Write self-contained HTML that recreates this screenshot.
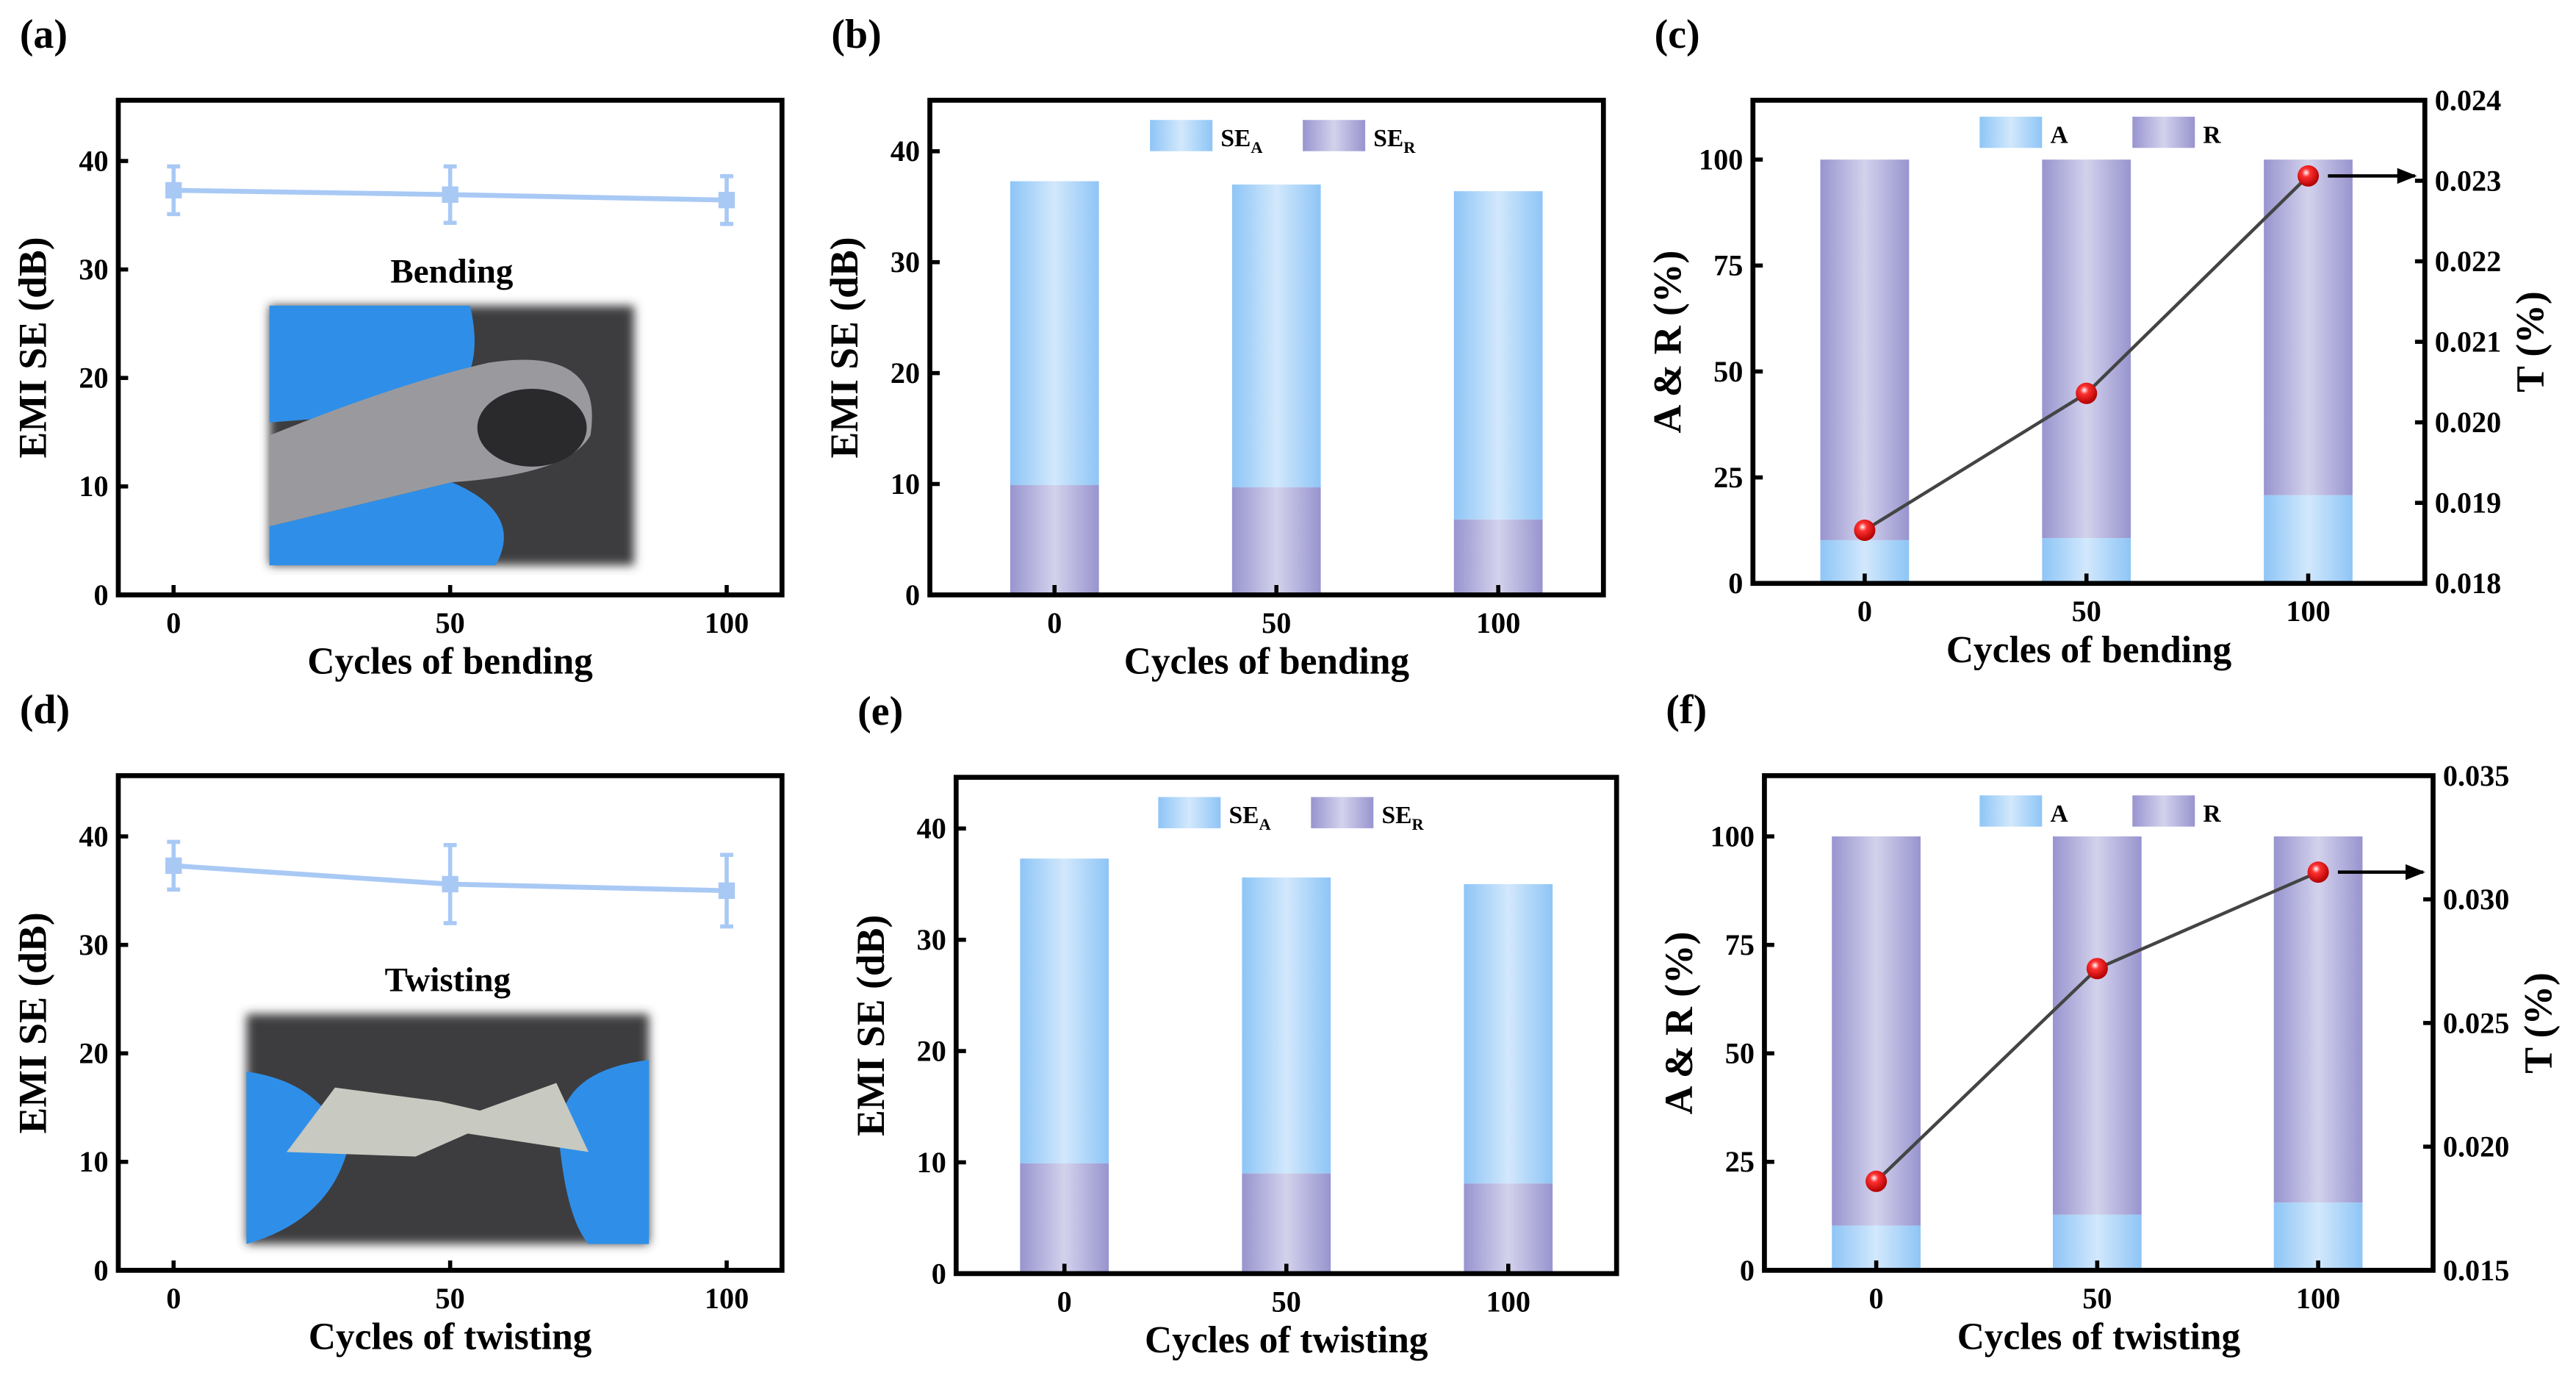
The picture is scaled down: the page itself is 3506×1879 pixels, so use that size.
<!DOCTYPE html>
<html><head><meta charset="utf-8">
<style>
html,body{margin:0;padding:0;background:#fff;}
svg{display:block;}
text{font-family:"Liberation Serif",serif;font-weight:bold;fill:#000;}
</style></head>
<body>
<svg id="fig" width="3506" height="1879" viewBox="0 0 1568 840.35" xmlns="http://www.w3.org/2000/svg">
<defs>
<linearGradient id="gA" x1="0" x2="1" y1="0" y2="0">
<stop offset="0" stop-color="#8ec5f6"/><stop offset="0.5" stop-color="#d2e8fc"/><stop offset="1" stop-color="#8ec5f6"/></linearGradient>
<linearGradient id="gR" x1="0" x2="1" y1="0" y2="0">
<stop offset="0" stop-color="#9894cf"/><stop offset="0.5" stop-color="#d3d2ec"/><stop offset="1" stop-color="#9894cf"/></linearGradient>
<radialGradient id="gBall" cx="0.4" cy="0.35" r="0.65">
<stop offset="0" stop-color="#fff"/><stop offset="0.3" stop-color="#ff3030"/><stop offset="1" stop-color="#b00000"/></radialGradient>
<marker id="arr" viewBox="0 0 10 10" refX="9" refY="5" markerWidth="6" markerHeight="6" orient="auto"><path d="M0,1 L10,5 L0,9 Z" fill="#000"/></marker>
<filter id="soft" x="-10%" y="-10%" width="120%" height="120%"><feGaussianBlur stdDeviation="3"/></filter>
</defs>
<g id="root"></g>
</svg>
<script>
// ---- data ----
const cycles = [0, 50, 100];
const bendSE = [37.3, 36.9, 36.4];
const bendErr = [2.2, 2.6, 2.2];
const twistSE = [37.3, 35.6, 35.0];
const twistErr = [2.2, 3.6, 3.3];
const bendSEA = [37.3, 37.0, 36.4];
const bendSER = [9.9, 9.7, 6.8];
const twistSEA = [37.3, 35.6, 35.0];
const twistSER = [9.9, 9.0, 8.1];
const bendA = [10.2, 10.7, 20.8];
const bendT = [0.01866, 0.02036, 0.02306];
const twistA = [10.3, 12.8, 15.6];
const twistT = [0.0186, 0.0272, 0.0311];
const xTickLabels = ['0', '50', '100'];
const seTicks = [0, 10, 20, 30, 40];
const arTicks = [0, 25, 50, 75, 100];
const tTicksBend = [0.018, 0.019, 0.020, 0.021, 0.022, 0.023, 0.024];
const tTicksTwist = [0.015, 0.020, 0.025, 0.030, 0.035];

const NS = 'http://www.w3.org/2000/svg';
const root = document.getElementById('root');
function el(tag, attrs, parent, txt){
  const e = document.createElementNS(NS, tag);
  for (const k in attrs) e.setAttribute(k, attrs[k]);
  if (txt !== undefined) e.textContent = txt;
  (parent || root).appendChild(e);
  return e;
}
function lin(d0, d1, r0, r1){ return v => r0 + (v - d0) * (r1 - r0) / (d1 - d0); }

function frame(g, x0, y0, x1, y1, xs, ys, xlabel, ylabel, panel, yTicks, yFmt){
  const lab = el('text', {x: x0 - 60, y: y0 - 32, 'font-size': 25}, g, panel);
  
  
  const box = el('rect', {x: x0, y: y0, width: x1 - x0, height: y1 - y0, fill: 'none', stroke: '#000', 'stroke-width': 3}, g);
  
  
  cycles.forEach((c, i) => {
    const x = xs(c);
    el('line', {x1: x, x2: x, y1: y1, y2: y1 - 6, stroke: '#000', 'stroke-width': 2.5}, g);
    const t = el('text', {x: x, y: y1 + 23, 'font-size': 18, 'text-anchor': 'middle'}, g, xTickLabels[i]);
    
    
  });
  yTicks.forEach(v => {
    const y = ys(v);
    el('line', {x1: x0, x2: x0 + 6, y1: y, y2: y, stroke: '#000', 'stroke-width': 2.5}, g);
    const t = el('text', {x: x0 - 6, y: y + 6, 'font-size': 18, 'text-anchor': 'end'}, g, yFmt(v));
    
    
  });
  const xt = el('text', {x: (x0 + x1) / 2, y: y1 + 48, 'font-size': 23, 'text-anchor': 'middle'}, g, xlabel);
  
  
  const cy = (y0 + y1) / 2;
  const yt = el('text', {x: x0 - 44, y: cy, 'font-size': 24, 'text-anchor': 'middle', transform: `rotate(-90 ${x0 - 44} ${cy})`}, g, ylabel);
  
  
}

function photo(g, x, y, w, h, twist){
  const p = el('g', {}, g);
  
  
  el('rect', {x: x, y: y, width: w, height: h, fill: '#3d3d40', filter: 'url(#soft)'}, p);
  if (!twist){
    el('path', {d: `M${x} ${y} L${x+w*0.55} ${y} Q${x+w*0.6} ${y+h*0.3} ${x+w*0.45} ${y+h*0.4} L${x} ${y+h*0.45} Z`, fill: '#2f8fe8'}, p);
    el('path', {d: `M${x} ${y+h*0.85} L${x+w*0.5} ${y+h*0.68} Q${x+w*0.7} ${y+h*0.8} ${x+w*0.62} ${y+h} L${x} ${y+h} Z`, fill: '#2f8fe8'}, p);
    el('path', {d: `M${x} ${y+h*0.5} Q${x+w*0.35} ${y+h*0.3} ${x+w*0.6} ${y+h*0.22} Q${x+w*0.92} ${y+h*0.15} ${x+w*0.88} ${y+h*0.5} Q${x+w*0.82} ${y+h*0.65} ${x+w*0.5} ${y+h*0.68} L${x} ${y+h*0.85} Z`, fill: '#9a9a9e'}, p);
    el('ellipse', {cx: x + w*0.72, cy: y + h*0.47, rx: w*0.15, ry: h*0.15, fill: '#2a2a2d'}, p);
  } else {
    el('path', {d: `M${x} ${y+h*0.25} Q${x+w*0.2} ${y+h*0.3} ${x+w*0.25} ${y+h*0.6} Q${x+w*0.2} ${y+h*0.9} ${x} ${y+h} Z`, fill: '#2f8fe8'}, p);
    el('path', {d: `M${x+w} ${y+h*0.2} Q${x+w*0.75} ${y+h*0.25} ${x+w*0.78} ${y+h*0.6} Q${x+w*0.8} ${y+h*0.9} ${x+w*0.85} ${y+h} L${x+w} ${y+h} Z`, fill: '#2f8fe8'}, p);
    el('path', {d: `M${x+w*0.22} ${y+h*0.32} L${x+w*0.48} ${y+h*0.38} L${x+w*0.58} ${y+h*0.42} L${x+w*0.77} ${y+h*0.3} L${x+w*0.85} ${y+h*0.6} L${x+w*0.55} ${y+h*0.52} L${x+w*0.42} ${y+h*0.62} L${x+w*0.1} ${y+h*0.6} Z`, fill: '#c8c9c0'}, p);
  }
}

function linePanel(x0, y0, x1, y1, vals, errs, panel, xlabel, word, ph){
  const g = el('g', {});
  
  
  const xs = lin(-10, 110, x0, x1);
  const ys = lin(0, 45.6, y1, y0);
  photo(g, ph[0], ph[1], ph[2], ph[3], word === 'Twisting');
  const w = el('text', {x: (ph[0] + ph[0] + ph[2]) / 2, y: ph[1] - 14, 'font-size': 21, 'text-anchor': 'middle'}, g, word);
  
  
  const pts = vals.map((v, i) => xs(cycles[i]) + ',' + ys(v)).join(' ');
  const pl = el('polyline', {points: pts, fill: 'none', stroke: '#a9c9f5', 'stroke-width': 3}, g);
  
  
  vals.forEach((v, i) => {
    const x = xs(cycles[i]);
    const e = el('path', {d: `M${x} ${ys(v - errs[i])} V${ys(v + errs[i])} M${x-4} ${ys(v - errs[i])} H${x+4} M${x-4} ${ys(v + errs[i])} H${x+4}`, stroke: '#a9c9f5', 'stroke-width': 2.5, fill: 'none'}, g);
    
    
    const m = el('rect', {x: x - 5, y: ys(v) - 5, width: 10, height: 10, fill: '#a9c9f5'}, g);
    
    
  });
  frame(g, x0, y0, x1, y1, xs, ys, xlabel, 'EMI SE (dB)', panel, seTicks, v => String(v));
}

function legendSE(g, lx, ly, labA, labR, sub){
  [['url(#gA)', labA, 0], ['url(#gR)', labR, 93]].forEach(([f, l, dx]) => {
    const s = el('rect', {x: lx + dx, y: ly - 10, width: 38, height: 19, fill: f}, g);
    
    
    const t = el('text', {x: lx + dx + 43, y: ly + 6, 'font-size': 15}, g);
    
    
    if (sub){
      el('tspan', {}, t, 'SE');
      el('tspan', {'font-size': 10, dy: 4}, t, l);
    } else t.textContent = l;
  });
}

function sePanel(x0, y0, x1, y1, d0, d1, A, R, panel, xlabel, lx, ly){
  const g = el('g', {});
  
  
  const xs = lin(d0, d1, x0, x1);
  const ys = lin(0, 44.6, y1, y0);
  const bw = 54;
  A.forEach((v, i) => {
    const x = xs(cycles[i]) - bw / 2;
    const a = el('rect', {x: x, y: ys(v), width: bw, height: ys(R[i]) - ys(v), fill: 'url(#gA)'}, g);
    
    
    const r = el('rect', {x: x, y: ys(R[i]), width: bw, height: ys(0) - ys(R[i]), fill: 'url(#gR)'}, g);
    
    
  });
  legendSE(g, lx, ly, 'A', 'R', true);
  frame(g, x0, y0, x1, y1, xs, ys, xlabel, 'EMI SE (dB)', panel, seTicks, v => String(v));
}

function arPanel(x0, y0, x1, y1, d0, d1, A, T, tTicks, tMin, tMax, panel, xlabel, lx, ly){
  const g = el('g', {});
  
  
  const xs = lin(d0, d1, x0, x1);
  const ys = lin(0, 114, y1, y0);
  const ts = lin(tMin, tMax, y1, y0);
  const bw = 54;
  A.forEach((v, i) => {
    const x = xs(cycles[i]) - bw / 2;
    const r = el('rect', {x: x, y: ys(100), width: bw, height: ys(v) - ys(100), fill: 'url(#gR)'}, g);
    
    
    const a = el('rect', {x: x, y: ys(v), width: bw, height: ys(0) - ys(v), fill: 'url(#gA)'}, g);
    
    
  });
  legendSE(g, lx, ly, 'A', 'R', false);
  const pts = T.map((v, i) => xs(cycles[i]) + ',' + ts(v)).join(' ');
  const pl = el('polyline', {points: pts, fill: 'none', stroke: '#444', 'stroke-width': 2}, g);
  
  
  T.forEach((v, i) => {
    const c = el('circle', {cx: xs(cycles[i]), cy: ts(v), r: 6.5, fill: 'url(#gBall)'}, g);
    
    
  });
  const last = T[T.length - 1];
  const ar = el('line', {x1: xs(100) + 12, x2: x1 - 6, y1: ts(last), y2: ts(last), stroke: '#000', 'stroke-width': 2, 'marker-end': 'url(#arr)'}, g);
  
  
  tTicks.forEach(v => {
    const y = ts(v);
    el('line', {x1: x1, x2: x1 - 6, y1: y, y2: y, stroke: '#000', 'stroke-width': 2.5}, g);
    const t = el('text', {x: x1 + 6, y: y + 6, 'font-size': 18}, g, v.toFixed(3));
    
    
  });
  const cy = (y0 + y1) / 2, rx = x1 + 72;
  const rt = el('text', {x: rx, y: cy, 'font-size': 24, 'text-anchor': 'middle', transform: `rotate(-90 ${rx} ${cy})`}, g, 'T (%)');
  
  
  frame(g, x0, y0, x1, y1, xs, ys, xlabel, 'A & R (%)', panel, arTicks, v => String(v));
}

linePanel(72, 61, 476, 362, bendSE, bendErr, '(a)', 'Cycles of bending', 'Bending', [164, 186, 222, 158]);
linePanel(72, 472, 476, 773, twistSE, twistErr, '(d)', 'Cycles of twisting', 'Twisting', [150, 617, 245, 140]);
sePanel(566, 61, 976, 362, -28.1, 123.7, bendSEA, bendSER, '(b)', 'Cycles of bending', 700, 83);
sePanel(582, 473, 984, 775, -24.4, 124.4, twistSEA, twistSER, '(e)', 'Cycles of twisting', 705, 495);
arPanel(1067, 61, 1476, 355, -25.2, 126.3, bendA, bendT, tTicksBend, 0.018, 0.024, '(c)', 'Cycles of bending', 1205, 81);
arPanel(1074, 472, 1481, 773, -25.3, 126, twistA, twistT, tTicksTwist, 0.015, 0.035, '(f)', 'Cycles of twisting', 1205, 494);
</script>
</body></html>
